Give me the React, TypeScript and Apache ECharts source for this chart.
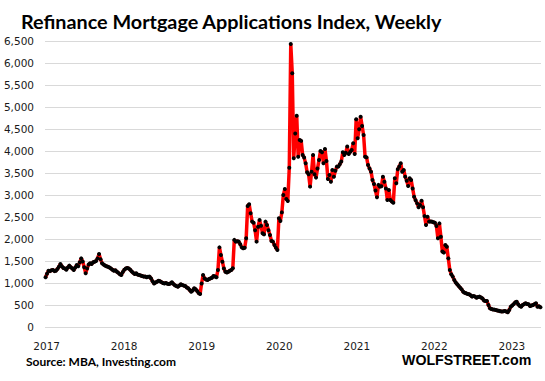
import React, { useEffect, useRef } from "react";
import * as echarts from "echarts";

// Weekly MBA Refinance Index readings
const FIRST_WEEK = 2016.986; // fractional year of the first weekly reading
const WEEK = 7 / 365.25;
const yearLabels = [2017, 2018, 2019, 2020, 2021, 2022, 2023];

const refi2017 = [
  1130, 1210, 1280, 1270, 1290, 1295, 1270, 1280, 1320, 1370,
  1430, 1380, 1340, 1330, 1300, 1350, 1395, 1360, 1330, 1295,
  1350, 1410, 1380, 1470, 1560, 1490, 1360, 1220, 1330, 1420,
  1450, 1430, 1470, 1485, 1500, 1560, 1660, 1540, 1450, 1420,
  1400, 1380, 1370, 1350, 1330, 1300, 1280, 1290, 1255, 1230,
  1200, 1180, 1250,
];
const refi2018 = [
  1300, 1330, 1340, 1330, 1300, 1260, 1230,
  1205, 1220, 1190, 1180, 1170, 1160, 1145, 1150, 1130, 1140,
  1145, 1100, 1040, 990, 1010, 1030, 1050, 1040, 1020, 1000,
  990, 1000, 985, 975, 990, 1015, 980, 950, 930, 915,
  940, 970, 955, 940, 930, 900, 880, 840, 800, 830,
  880, 860, 820, 770, 750,
];
const refi2019 = [
  990, 1180, 1105, 1080, 1070,
  1090, 1105, 1120, 1160, 1150, 1130, 1295, 1810, 1635, 1485,
  1330, 1255, 1240, 1255, 1280, 1295, 1335, 1980, 1940, 1950,
  1940, 1880, 1810, 1790, 1800, 2015, 2750, 2790, 2585, 2395,
  2370, 2200, 1940, 2280, 2430, 2300, 2130, 2105, 2395, 2320,
  2200, 2090, 1955, 1940, 1865, 1800, 1750,
];
const refi2020 = [
  2470, 2410, 2605,
  3000, 3135, 2910, 2865, 3620, 6430, 5765, 3835, 4400, 4800,
  3870, 4250, 4230, 3910, 3850, 3720, 3515, 3470, 3190, 3530,
  3910, 3470, 3395, 3600, 3795, 4000, 3970, 3720, 4045, 3775,
  3365, 3455, 3300, 3570, 3415, 3550, 3645, 3645, 3700, 3760,
  3970, 3910, 3960, 4100, 3930, 3980, 4025, 4175, 3930,
];
const refi2021 = [
  4720, 4290, 4495, 4780, 4570, 4365, 3870, 3855, 3680, 3600, 3530,
  3340, 3250, 3100, 2950, 3230, 3190, 3200, 3415, 3300, 3150,
  2885, 3115, 2885, 2850, 2825, 3380, 3265, 3585, 3650, 3720,
  3530, 3570, 3415, 3325, 3205, 3380, 3340, 3150, 2960, 2880,
  2810, 2720, 2775, 2870, 2720, 2520, 2320, 2505, 2395, 2400, 2395,
];
const refi2022 = [
  2380, 2370, 2295, 2015, 2355, 2050, 1715, 1690, 1865,
  1825, 1560, 1295, 1200, 1145, 1070, 1010, 970, 930, 890,
  855, 800, 780, 765, 750, 745, 720, 690, 705, 690,
  665, 680, 690, 670, 650, 600, 590, 590, 500, 425,
  410, 400, 395, 385, 375, 370, 360, 350, 355, 365,
  350, 335, 385, 460,
];
const refi2023 = [
  490, 520, 560, 575, 515, 480, 460, 500, 520, 540,
  525, 515, 475, 490, 500, 520, 540, 460, 470, 450,
];

const refiIndex = [
  ...refi2017, ...refi2018, ...refi2019, ...refi2020,
  ...refi2021, ...refi2022, ...refi2023,
];

export default function App() {
  const ref = useRef<HTMLDivElement>(null);
  useEffect(() => {
    const chart = echarts.init(ref.current!, null, { renderer: "svg" });
    const data = refiIndex.map((v, i) => [FIRST_WEEK + i * WEEK, v]);
    chart.setOption({
      animation: false,
      backgroundColor: "#ffffff",
      title: {
        text: "Refinance Mortgage Applications Index, Weekly",
        left: 16,
        top: 6,
        textStyle: {
          fontFamily: "Lato",
          fontWeight: "bold",
          fontSize: 19.8,
          color: "#000",
        },
      },
      grid: { left: 45, right: 4, top: 41, bottom: 54, containLabel: false },
      xAxis: {
        type: "value",
        min: 2016.979,
        max: 2023.375,
        splitLine: { show: false },
        axisLine: { show: false },
        axisTick: { show: false },
        axisLabel: {
          customValues: yearLabels,
          formatter: (v: number) => String(Math.round(v)),
          fontFamily: "DejaVu Sans",
          fontSize: 10.5,
          color: "#1a1a1a",
          margin: 13,
        },
      },
      yAxis: {
        type: "value",
        min: 0,
        max: 6500,
        interval: 500,
        axisLine: { show: false },
        axisTick: { show: false },
        splitLine: { lineStyle: { color: "#d9d9d9", width: 1 } },
        axisLabel: {
          formatter: (v: number) => v.toLocaleString("en-US"),
          fontFamily: "DejaVu Sans",
          fontSize: 10.5,
          color: "#1a1a1a",
          margin: 11,
        },
      },
      series: [
        {
          type: "line",
          data,
          symbol: "circle",
          symbolSize: 4,
          showSymbol: true,
          lineStyle: { color: "#ff0000", width: 3.5 },
          itemStyle: { color: "#000000" },
        },
      ],
      graphic: [
        {
          type: "text",
          x: 26,
          y: 361,
          style: {
            text: "Source: MBA, Investing.com",
            fill: "#000",
            fontFamily: "Lato",
            fontWeight: "bold",
            fontSize: 12,
            verticalAlign: "middle",
          },
        },
        {
          type: "text",
          x: 402,
          y: 360,
          style: {
            text: "WOLFSTREET.com",
            fill: "#000",
            fontFamily: "Liberation Sans",
            fontWeight: "bold",
            fontSize: 14.2,
            verticalAlign: "middle",
          },
        },
      ],
    });
    return () => chart.dispose();
  }, []);
  return (
    <div
      ref={ref}
      style={{ position: "absolute", left: 0, top: 0, width: 545, height: 381 }}
    />
  );
}
